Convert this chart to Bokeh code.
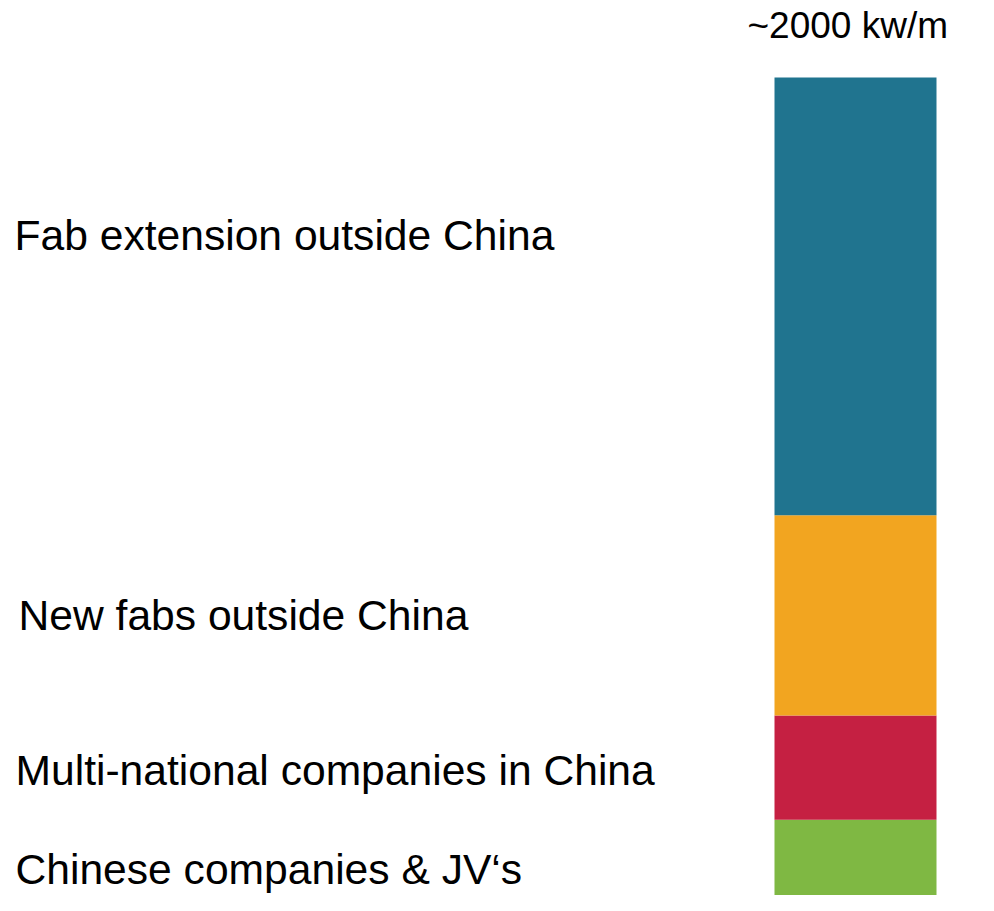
import numpy as np
from bokeh.plotting import figure
from bokeh.models import Range1d, ColumnDataSource
from bokeh.core.properties import value
from bokeh.embed import file_html
from bokeh.resources import INLINE

# ---- data (bottom to top) ----
categories = ["Chinese companies & JV\u2018s", "Multi-national companies in China",
              "New fabs outside China", "Fab extension outside China"]
values = [220, 250, 480, 1050]
colors = ["#7fb843", "#c52042", "#f2a520", "#20748f"]
total_label = "~2000 kw/m"

# ---- layout ----
W, H = 978, 895
s = 834 / 2000.0            # pixels per unit
y_start = 16 / s            # bar bottom is cropped by the frame edge
y_end = y_start + H / s

p = figure(width=W, height=H, output_backend="svg", toolbar_location=None,
           x_range=Range1d(0, W), y_range=Range1d(y_start, y_end),
           min_border=0, outline_line_color=None)
p.xaxis.visible = False
p.yaxis.visible = False
p.xgrid.visible = False
p.ygrid.visible = False
p.background_fill_color = "white"
p.border_fill_color = "white"

vals = np.array(values, dtype=float)
tops = np.cumsum(vals)
bottoms = tops - vals
mids = (tops + bottoms) / 2

bar_x = 855
bar_w = 162
src = ColumnDataSource(dict(bottom=bottoms, top=tops, color=colors))
p.vbar(x=bar_x, width=bar_w, bottom="bottom", top="top", color="color",
       line_color=None, source=src)

# label vertical shift in pixels relative to segment middle (positive = down)
shift_px = [3, 2, 0, -61]
label_x = [15, 15, 18, 14]
label_y = [m - sp / s for m, sp in zip(mids, shift_px)]
p.text(x=label_x, y=label_y, text=categories,
       text_font=value("Liberation Sans"), text_font_size="42.6px",
       text_color="#000000", text_align="left", text_baseline="alphabetic")

# total label above bar
p.text(x=[747], y=[tops[-1] + 52 / s], text=[total_label],
       text_font=value("Liberation Sans"), text_font_size="37px",
       text_color="#000000", text_align="left", text_baseline="alphabetic")

open("out.html", "w").write(file_html(p, INLINE))
